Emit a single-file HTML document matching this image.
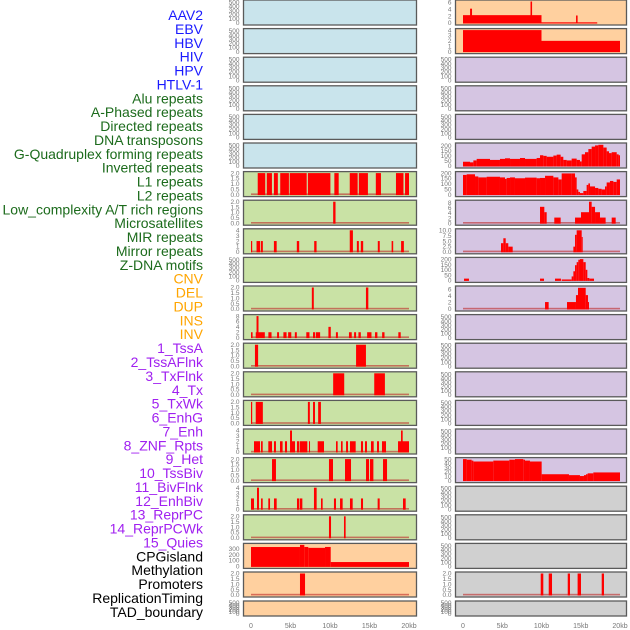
<!DOCTYPE html>
<html><head><meta charset="utf-8">
<style>
html,body{margin:0;padding:0;background:#fff;}
svg{display:block;font-family:"Liberation Sans",sans-serif;}
</style></head>
<body>
<svg id="chart" width="630" height="630" viewBox="0 0 630 630" xmlns="http://www.w3.org/2000/svg"></svg>
<script>
// ---------- data ----------
const trackLabels = ["AAV2","EBV","HBV","HIV","HPV","HTLV-1","Alu repeats","A-Phased repeats","Directed repeats","DNA transposons","G-Quadruplex forming repeats","Inverted repeats","L1 repeats","L2 repeats","Low_complexity A/T rich regions","Microsatellites","MIR repeats","Mirror repeats","Z-DNA motifs","CNV","DEL","DUP","INS","INV","1_TssA","2_TssAFlnk","3_TxFlnk","4_Tx","5_TxWk","6_EnhG","7_Enh","8_ZNF_Rpts","9_Het","10_TssBiv","11_BivFlnk","12_EnhBiv","13_ReprPC","14_ReprPCWk","15_Quies","CPGisland","Methylation","Promoters","ReplicationTiming","TAD_boundary"];
const labelGroupSizes = [6,13,5,15,5];
const labelGroupColors = ["#1a1aff","#1c6b1c","#ffa500","#a020f0","#000000"];
const xTickKb = [0,5,10,15,20];
const xTickLabels = ["0","5kb","10kb","15kb","20kb"];
const leftBg = ["#c9e4ec","#c9e4ec","#c9e4ec","#c9e4ec","#c9e4ec","#c9e4ec","#c9e2a5","#c9e2a5","#c9e2a5","#c9e2a5","#c9e2a5","#c9e2a5","#c9e2a5","#c9e2a5","#c9e2a5","#c9e2a5","#c9e2a5","#c9e2a5","#c9e2a5","#ffd09f","#ffd09f","#ffd09f"];
const rightBg = ["#ffd09f","#ffd09f","#d5c5e2","#d5c5e2","#d5c5e2","#d5c5e2","#d5c5e2","#d5c5e2","#d5c5e2","#d5c5e2","#d5c5e2","#d5c5e2","#d5c5e2","#d5c5e2","#d5c5e2","#d5c5e2","#d5c5e2","#d0d0d0","#d0d0d0","#d0d0d0","#d0d0d0","#d0d0d0"];

const t500 = [0,100,200,300,400,500];
const t2 = [0,0.5,1,1.5,2];
const t4 = [0,1,2,3,4];
const t8 = [0,2,4,6,8];
const t6 = [0,2,4,6];
const t10 = [0,2.5,5,7.5,10];
const t200 = [0,50,100,150,200];
const t50 = [0,10,20,30,40,50];
const t300 = [0,100,200,300];

// left column
const lL1Start = [0.85,2.0,2.9,3.7,4.9,7.2,10.55,12.5,13.65,15.8,18.35,19.5];
const lL1End = [1.8,2.65,3.4,4.8,7.05,10.05,11.1,13.5,14.8,16.45,19.3,20.0];
const lL1Val = [2,2,2,2,2,2,2,2,2,2,2,2];
const lLowStart = [10.4], lLowEnd = [10.7], lLowVal = [2];
const lMirStart = [0,0.7,1.25,2.9,5.8,8.0,12.5,13.4,13.9,16.05,17.8,19.0];
const lMirEnd = [0.15,1.15,1.5,3.25,6.1,8.3,12.9,13.65,14.2,16.3,18.0,19.35];
const lMirVal = [2,2,2,2,2,2,4,2,2,2,2,2];
const lDelStart = [7.7,14.55], lDelEnd = [7.95,14.85], lDelVal = [2,2];
const lInsStart = [0,0.6,0.7,2.2,3.3,4.1,4.7,5.55,7.0,7.85,8.2,9.8,10.75,12.4,13.05,13.6,14.7,15.7,16.6,18.65];
const lInsEnd = [0.2,1.75,0.95,2.6,3.55,4.5,5.1,5.8,7.4,8.1,8.75,10.1,11.0,12.75,13.3,13.9,15.25,16.0,16.9,18.95];
const lInsVal = [2,2,8,2,2,2,2,2,2,2,2,4,2,2,2,2,2,2,2,2];
const lTssAStart = [0.5,13.3], lTssAEnd = [0.9,14.55], lTssAVal = [2,2];
const lTxFStart = [10.4,15.6], lTxFEnd = [11.8,16.95], lTxFVal = [2,2];
const lTxWkStart = [0,0.6,7.2,7.85,8.5], lTxWkEnd = [0.15,1.5,7.45,8.1,8.85], lTxWkVal = [2,2,2,2,2];
const lEnhStart = [0.38,1.27,2.19,2.91,3.67,4.3,4.94,5.19,5.82,6.2,7.34,8.44,10.76,11.39,12.03,12.53,13.92,14.43,15.19,15.95,16.58,18.61,18.99];
const lEnhEnd = [1.14,1.48,2.66,3.16,4.0,4.56,5.19,5.57,6.12,7.13,7.47,9.24,10.97,11.6,12.28,13.25,14.18,14.68,15.53,16.2,17.09,20.0,19.2];
const lEnhVal = [2,2,2,2,2,2,4,2,2,2,2,2,2,2,2,2,2,2,2,2,2,2,4];
const lR16Start = [2.66,9.87,11.9,14.56,15.06,16.71], lR16End = [3.16,10.38,12.66,14.94,15.49,17.22], lR16Val = [2,2,2,2,2,2];
const lR17Start = [0,0.76,1.27,2.19,2.91,5.82,6.2,7.97,8.86,10.5,11.27,12.53,13.92,16.03,19.24];
const lR17End = [0.38,1.01,1.48,2.41,3.25,6.12,6.5,8.31,9.07,10.76,11.6,12.87,14.18,16.29,19.58];
const lR17Val = [2,4,2,2,2,2,2,4,2,2,2,2,2,2,2];
const lR18Start = [9.87,11.77], lR18End = [10.13,11.98], lR18Val = [2,2];
const lCpgBreaks = [0,6.2,6.75,7.25,9.37,10.09,20.0];
const lCpgVal = [329,365,330,315,330,74];
const lPromStart = [6.2], lPromEnd = [6.84], lPromVal = [2];

// right column
const rAavStart = [0,0.9,8.6,10,14.4], rAavEnd = [10,1.15,8.8,17.1,14.6], rAavVal = [2.3,4.2,6.3,0.2,2.2];
const rEbvStart = [0,10], rEbvEnd = [10,20], rEbvVal = [4,2];
const rGqBreaks = [0,0.89,1.32,1.74,3.44,4.71,5.35,5.99,7.26,7.9,9.38,9.81,10.23,10.66,11.51,11.93,12.44,12.78,13.21,13.84,14.48,14.9,15.12,15.54,15.97,16.39,16.82,17.24,17.88,18.3,18.6,18.94,19.58,19.83,20.0];
const rGqVal = [42,36,55,70,60,70,76,70,79,70,79,106,100,91,103,112,91,60,55,73,60,45,115,136,167,191,203,209,182,145,127,136,115,106];
const rL1Breaks = [0,0.47,1.53,1.95,3.01,4.71,5.35,5.56,5.99,6.62,7.9,9.38,9.81,10.45,11.51,12.15,12.57,13.84,14.27,14.48,14.69,14.9,15.33,15.75,15.97,16.18,16.82,17.24,17.66,18.09,18.3,18.72,19.15,19.58,20.0];
const rL1Val = [183,189,169,160,166,160,146,155,160,152,158,152,155,175,160,141,197,197,160,48,25,14,34,90,104,76,62,54,48,76,113,127,118,141];
const rLowStart = [9.81,10.36,11.63,14.27,15.03,16.05,16.39,16.82,17.45,18.94];
const rLowEnd = [10.36,10.66,12.44,15.03,16.05,16.39,16.82,17.45,18.17,19.45];
const rLowVal = [6.4,4.3,2.2,2.2,4.3,8.4,6.4,4.3,2.2,2.2];
const rMirStart = [4.84,5.14,5.44,5.77,14.06,14.27,14.48,15.12];
const rMirEnd = [5.14,5.44,5.77,6.33,14.27,14.48,15.12,15.24];
const rMirVal = [4,6.3,4,2.4,2.4,7.9,10,6.9];
const rZStart = [0.13,9.81,11.72,12.57,13.84,14.06,14.27,14.48,14.69,14.9,15.33,15.63,15.84,16.09];
const rZEnd = [0.76,10.32,12.48,13.84,14.06,14.27,14.48,14.69,14.9,15.33,15.63,15.84,16.09,16.69];
const rZVal = [17,17,17,9,38,87,145,174,197,203,174,101,23,17];
const rDelStart = [10.45,13.25,14.39,14.65,15.63,15.92];
const rDelEnd = [10.91,14.39,14.65,15.63,15.92,16.05];
const rDelVal = [2.1,2.1,4.2,6.4,4.2,2.1];
const rHetBreaks = [0,0.47,1.1,1.32,3.86,5.9,6.62,7.68,7.9,8.53,10.02,13.5,14.9,15.41,15.67,15.88,16.6,20.0];
const rHetVal = [50,48.6,46.5,44.4,46.5,48.6,50,48.6,46.5,44.4,14.8,12.7,10.6,12.7,14.8,16.9,19];
const rPromStart = [9.9,10.92,13.34,14.6,17.67], rPromEnd = [10.23,11.34,13.63,15.03,17.96], rPromVal = [2,2,2,2,2];

function brk(b){return {s:b.slice(0,-1), e:b.slice(1)};}
const panels = [
 {col:0,row:6,name:"l1-left",s:lL1Start,e:lL1End,v:lL1Val,yMax:2,ticks:t2,base:true},
 {col:0,row:7,name:"low-complexity-left",s:lLowStart,e:lLowEnd,v:lLowVal,yMax:2,ticks:t2,base:true},
 {col:0,row:8,name:"mir-left",s:lMirStart,e:lMirEnd,v:lMirVal,yMax:4,ticks:t4,base:true},
 {col:0,row:10,name:"del-left",s:lDelStart,e:lDelEnd,v:lDelVal,yMax:2,ticks:t2,base:true},
 {col:0,row:11,name:"ins-left",s:lInsStart,e:lInsEnd,v:lInsVal,yMax:8,ticks:t8,base:true},
 {col:0,row:12,name:"tssa-left",s:lTssAStart,e:lTssAEnd,v:lTssAVal,yMax:2,ticks:t2,base:true},
 {col:0,row:13,name:"txflnk-left",s:lTxFStart,e:lTxFEnd,v:lTxFVal,yMax:2,ticks:t2,base:true},
 {col:0,row:14,name:"txwk-left",s:lTxWkStart,e:lTxWkEnd,v:lTxWkVal,yMax:2,ticks:t2,base:true},
 {col:0,row:15,name:"enh-left",s:lEnhStart,e:lEnhEnd,v:lEnhVal,yMax:4,ticks:t4,base:true},
 {col:0,row:16,name:"het-left",s:lR16Start,e:lR16End,v:lR16Val,yMax:2,ticks:t2,base:true},
 {col:0,row:17,name:"bivflnk-left",s:lR17Start,e:lR17End,v:lR17Val,yMax:4,ticks:t4,base:true},
 {col:0,row:18,name:"reprpc-left",s:lR18Start,e:lR18End,v:lR18Val,yMax:2,ticks:t2,base:true},
 {col:0,row:19,name:"cpg-left",s:brk(lCpgBreaks).s,e:brk(lCpgBreaks).e,v:lCpgVal,yMax:365,ticks:t300,base:false},
 {col:0,row:20,name:"promoters-left",s:lPromStart,e:lPromEnd,v:lPromVal,yMax:2,ticks:t2,base:true},
 {col:1,row:0,name:"aav2-right",s:rAavStart,e:rAavEnd,v:rAavVal,yMax:6.3,ticks:t6,base:false},
 {col:1,row:1,name:"ebv-right",s:rEbvStart,e:rEbvEnd,v:rEbvVal,yMax:4,ticks:t4,base:false},
 {col:1,row:5,name:"gquad-right",s:brk(rGqBreaks).s,e:brk(rGqBreaks).e,v:rGqVal,yMax:212,ticks:t200,base:false},
 {col:1,row:6,name:"l1-right",s:brk(rL1Breaks).s,e:brk(rL1Breaks).e,v:rL1Val,yMax:200,ticks:t200,base:false},
 {col:1,row:7,name:"low-complexity-right",s:rLowStart,e:rLowEnd,v:rLowVal,yMax:8.4,ticks:t8,base:true},
 {col:1,row:8,name:"mir-right",s:rMirStart,e:rMirEnd,v:rMirVal,yMax:10,ticks:t10,base:true},
 {col:1,row:9,name:"zdna-right",s:rZStart,e:rZEnd,v:rZVal,yMax:205,ticks:t200,base:false},
 {col:1,row:10,name:"del-right",s:rDelStart,e:rDelEnd,v:rDelVal,yMax:6.5,ticks:t6,base:true},
 {col:1,row:16,name:"het-right",s:brk(rHetBreaks).s,e:brk(rHetBreaks).e,v:rHetVal,yMax:50,ticks:t50,base:false},
 {col:1,row:20,name:"promoters-right",s:rPromStart,e:rPromEnd,v:rPromVal,yMax:2,ticks:t2,base:true}
];

// ---------- drawing ----------
const NS = "http://www.w3.org/2000/svg";
const svg = document.getElementById("chart");
function mk(tag, attrs, parent){
  const el = document.createElementNS(NS, tag);
  for (const k in attrs) el.setAttribute(k, attrs[k]);
  (parent||svg).appendChild(el);
  return el;
}
const colGeom = [{x0:243.5,x1:416.5,k0:251,kpx:7.9},{x0:455.5,x1:626.5,k0:463,kpx:7.85}];
function xScale(col,kb){return colGeom[col].k0 + kb*colGeom[col].kpx;}
function rowTop(r){return r===21 ? 601 : r*28.6;}
function rowH(r){return r===21 ? 15 : 25;}
function yScale(r,yMax,v){
  const top=rowTop(r)+1.5, bot=rowTop(r)+rowH(r)-2;
  return bot - (v/yMax)*(bot-top);
}
function fmt(t,ticks){return (ticks===t2||ticks===t10) ? t.toFixed(1) : String(t);}

// labels
let li=0;
labelGroupSizes.forEach((n,g)=>{
  for(let j=0;j<n;j++){
    const t = mk("text",{x:203,y:15+li*13.88+5,"text-anchor":"end","font-size":"14",fill:labelGroupColors[g]});
    t.textContent = trackLabels[li];
    
    
    li++;
  }
});

const panelMap = {};
panels.forEach(p=>{panelMap[p.col+"-"+p.row]=p;});

for(let col=0;col<2;col++){
  for(let r=0;r<22;r++){
    const g = mk("g",{});
    
    
    const p = panelMap[col+"-"+r];
    const bg = col===0 ? leftBg[r] : rightBg[r];
    const cg = colGeom[col];
    const rect = mk("rect",{x:cg.x0,y:rowTop(r),width:cg.x1-cg.x0,height:rowH(r),fill:bg},g);
    
    
    const yMax = p ? p.yMax : 520;
    const ticks = p ? p.ticks : t500;
    if(p){
      if(p.base){
        const bl = mk("rect",{x:xScale(col,0),y:rowTop(r)+rowH(r)-3.2,width:xScale(col,20)-xScale(col,0),height:1.6,fill:"rgba(190,40,40,0.6)"},g);
        
        
      }
      for(let i=0;i<p.v.length;i++){
        const xa=xScale(col,p.s[i]), xb=xScale(col,p.e[i]);
        const yv=yScale(r,yMax,p.v[i]), y0=yScale(r,yMax,0);
        const b = mk("rect",{x:xa,y:yv,width:Math.max(xb-xa,1),height:y0-yv+0.5,fill:"#ff0000"},g);
        
        
      }
    }
    const bord = mk("rect",{x:cg.x0,y:rowTop(r),width:cg.x1-cg.x0,height:rowH(r),fill:"none",stroke:"#5a5a5a","stroke-width":1.3},g);
    
    
    ticks.forEach(t=>{
      const tl = mk("text",{x:cg.x0-4,y:yScale(r,yMax,t)+2.2,"text-anchor":"end","font-size":"6.5",fill:"#777"},g);
      tl.textContent = fmt(t,ticks);
      
      
    });
  }
  xTickKb.forEach((k,i)=>{
    const xt = mk("text",{x:xScale(col,k),y:628,"text-anchor":"middle","font-size":"7",fill:"#777"});
    xt.textContent = xTickLabels[i];
    
    
  });
}
</script>
</body></html>
